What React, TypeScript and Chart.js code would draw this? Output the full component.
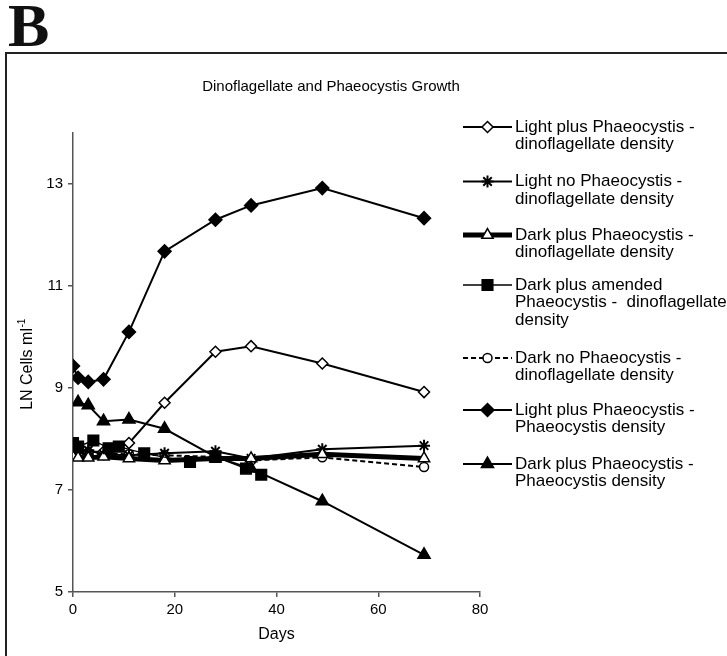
import React, { useEffect, useRef } from 'react';
import { Chart, registerables } from 'chart.js';

Chart.register(...registerables);

// ---------- data ----------
const days = [0, 1, 3, 6, 11, 18, 28, 35, 49, 69];
const lightPlusDino = [7.8, 7.78, 7.75, 7.75, 7.92, 8.71, 9.71, 9.82, 9.48, 8.92];
const lightNoDino = [7.75, 7.72, 7.78, 7.7, 7.68, 7.72, 7.76, 7.62, 7.8, 7.87];
const darkPlusDino = [7.65, 7.63, 7.63, 7.65, 7.62, 7.58, 7.62, 7.62, 7.7, 7.62];
const amendedDays = [0, 1, 4, 7, 9, 14, 23, 28, 34, 37];
const amendedDino = [7.92, 7.85, 7.97, 7.82, 7.85, 7.72, 7.55, 7.65, 7.42, 7.3];
const darkNoDino = [7.75, 7.72, 7.7, 7.72, 7.7, 7.68, 7.65, 7.58, 7.64, 7.45];
const lightPlusPhaeo = [9.43, 9.2, 9.12, 9.17, 10.1, 11.68, 12.3, 12.58, 12.92, 12.33];
const darkPhaeoDays = [1, 3, 6, 11, 18, 28, 35, 49, 69];
const darkPlusPhaeo = [8.72, 8.66, 8.35, 8.38, 8.2, 7.65, 7.42, 6.78, 5.73];

const seriesLabels = [
  ['Light plus Phaeocystis -', 'dinoflagellate density'],
  ['Light no Phaeocystis -', 'dinoflagellate density'],
  ['Dark plus Phaeocystis -', 'dinoflagellate density'],
  ['Dark plus amended', 'Phaeocystis -  dinoflagellate', 'density'],
  ['Dark no Phaeocystis -', 'dinoflagellate density'],
  ['Light plus Phaeocystis -', 'Phaeocystis density'],
  ['Dark plus Phaeocystis -', 'Phaeocystis density'],
];

const yTickValues = [5, 7, 9, 11, 13];
const xTickValues = [0, 20, 40, 60, 80];
const chartTitle = 'Dinoflagellate and Phaeocystis Growth';
const xTitle = 'Days';
const yTitleMain = 'LN Cells ml';
const yTitleSup = '-1';
const panelLetter = 'B';

// ---------- styles ----------
const W = 727;
const H = 656;
const FONT = "'Liberation Sans', Arial, sans-serif";
const AXIS = '#555555';

type Sty = { ps: string; filled: boolean; lw: number; dash: number[]; r: number; order: number };
const styles: Sty[] = [
  { ps: 'rectRot', filled: false, lw: 2, dash: [], r: 5.5, order: 7 },
  { ps: 'star', filled: false, lw: 2, dash: [], r: 6, order: 6 },
  { ps: 'triangle', filled: false, lw: 5, dash: [], r: 6.5, order: 5 },
  { ps: 'rect', filled: true, lw: 1.3, dash: [], r: 7.5, order: 1 },
  { ps: 'circle', filled: false, lw: 2, dash: [5, 3], r: 4.5, order: 9 },
  { ps: 'rectRot', filled: true, lw: 2, dash: [], r: 6.5, order: 3 },
  { ps: 'triangle', filled: true, lw: 2, dash: [], r: 7, order: 2 },
];

const toXY = (xs: number[], ys: number[]) => xs.map((x, i) => ({ x, y: ys[i] }));

const seriesData = [
  toXY(days, lightPlusDino),
  toXY(days, lightNoDino),
  toXY(days, darkPlusDino),
  toXY(amendedDays, amendedDino),
  toXY(days, darkNoDino),
  toXY(days, lightPlusPhaeo),
  toXY(darkPhaeoDays, darkPlusPhaeo),
];

function drawMarker(ctx: CanvasRenderingContext2D, s: Sty, x: number, y: number) {
  const r = s.r;
  ctx.save();
  ctx.setLineDash([]);
  ctx.lineWidth = s.ps === 'star' ? 2 : 1.5;
  ctx.strokeStyle = '#000';
  ctx.fillStyle = s.filled ? '#000' : '#fff';
  ctx.beginPath();
  if (s.ps === 'rectRot') {
    ctx.moveTo(x, y - r);
    ctx.lineTo(x + r, y);
    ctx.lineTo(x, y + r);
    ctx.lineTo(x - r, y);
    ctx.closePath();
    ctx.fill();
    ctx.stroke();
  } else if (s.ps === 'rect') {
    const h = r * Math.SQRT1_2;
    ctx.rect(x - h, y - h, 2 * h, 2 * h);
    ctx.fill();
    ctx.stroke();
  } else if (s.ps === 'triangle') {
    const a = (Math.PI * 2) / 3;
    ctx.moveTo(x, y - r);
    ctx.lineTo(x + Math.sin(a) * r, y - Math.cos(a) * r);
    ctx.lineTo(x - Math.sin(a) * r, y - Math.cos(a) * r);
    ctx.closePath();
    ctx.fill();
    ctx.stroke();
  } else if (s.ps === 'circle') {
    ctx.arc(x, y, r, 0, Math.PI * 2);
    ctx.fill();
    ctx.stroke();
  } else if (s.ps === 'star') {
    const d = r * Math.SQRT1_2;
    ctx.moveTo(x - r, y);
    ctx.lineTo(x + r, y);
    ctx.moveTo(x, y - r);
    ctx.lineTo(x, y + r);
    ctx.moveTo(x - d, y - d);
    ctx.lineTo(x + d, y + d);
    ctx.moveTo(x - d, y + d);
    ctx.lineTo(x + d, y - d);
    ctx.stroke();
  }
  ctx.restore();
}

const decorPlugin = {
  id: 'decor',
  beforeDraw(chart: any) {
    const ctx: CanvasRenderingContext2D = chart.ctx;
    ctx.save();
    ctx.fillStyle = '#fff';
    ctx.fillRect(0, 0, W, H);
    // frame
    ctx.strokeStyle = '#222';
    ctx.lineWidth = 2;
    ctx.beginPath();
    ctx.moveTo(6, H);
    ctx.lineTo(6, 53);
    ctx.lineTo(W, 53);
    ctx.stroke();
    // panel letter
    ctx.fillStyle = '#111';
    ctx.font = "bold 62px 'Liberation Serif', 'Times New Roman', serif";
    ctx.textBaseline = 'alphabetic';
    ctx.textAlign = 'left';
    ctx.fillText(panelLetter, 8, 46);
    ctx.restore();
  },
  afterDraw(chart: any) {
    const ctx: CanvasRenderingContext2D = chart.ctx;
    const area = chart.chartArea;
    ctx.save();
    // title
    ctx.fillStyle = '#000';
    ctx.font = `15px ${FONT}`;
    ctx.textAlign = 'center';
    ctx.textBaseline = 'middle';
    ctx.fillText(chartTitle, 331, 87);
    // y axis title with superscript
    ctx.translate(28, (area.top + area.bottom) / 2 + 2);
    ctx.rotate(-Math.PI / 2);
    ctx.font = `16px ${FONT}`;
    const w1 = ctx.measureText(yTitleMain).width;
    ctx.font = `10px ${FONT}`;
    const w2 = ctx.measureText(yTitleSup).width;
    const start = -(w1 + w2) / 2;
    ctx.textAlign = 'left';
    ctx.font = `16px ${FONT}`;
    ctx.fillText(yTitleMain, start, 0);
    ctx.font = `10px ${FONT}`;
    ctx.fillText(yTitleSup, start + w1 + 0.5, -6);
    ctx.restore();

    // legend
    const legendY = [127, 181.5, 235, 285, 358, 410, 464];
    const lineH = 17.5;
    ctx.save();
    seriesLabels.forEach((lines, i) => {
      const s = styles[i];
      const y = legendY[i];
      ctx.save();
      ctx.strokeStyle = '#000';
      ctx.lineWidth = s.lw;
      ctx.setLineDash(s.dash);
      ctx.beginPath();
      ctx.moveTo(463, y);
      ctx.lineTo(512, y);
      ctx.stroke();
      ctx.restore();
      drawMarker(ctx, s, 487.5, y);
      ctx.fillStyle = '#000';
      ctx.font = `17px ${FONT}`;
      ctx.textAlign = 'left';
      ctx.textBaseline = 'middle';
      lines.forEach((t, j) => ctx.fillText(t, 515, y + j * lineH));
    });
    ctx.restore();
  },
};

export default function App() {
  const ref = useRef<HTMLCanvasElement | null>(null);
  useEffect(() => {
    if (!ref.current) return;
    const tickFont = { family: FONT, size: 15 };
    const chart = new Chart(ref.current, {
      type: 'line',
      data: {
        datasets: seriesData.map((d, i) => {
          const s = styles[i];
          return {
            label: seriesLabels[i].join(' '),
            data: d,
            borderColor: '#000',
            borderWidth: s.lw,
            borderDash: s.dash,
            backgroundColor: s.filled ? '#000' : '#fff',
            pointStyle: s.ps as any,
            pointRadius: s.r,
            pointBorderWidth: s.ps === 'star' ? 2 : 1.5,
            pointBorderColor: '#000',
            pointBackgroundColor: s.filled ? '#000' : '#fff',
            tension: 0,
            fill: false,
            order: s.order,
          };
        }),
      },
      options: {
        responsive: false,
        animation: false,
        events: [],
        layout: { padding: { left: 0, right: 247, top: 133, bottom: 0 } },
        plugins: {
          legend: { display: false },
          title: { display: false },
          tooltip: { enabled: false },
        },
        scales: {
          x: {
            type: 'linear',
            min: 0,
            max: 80,
            afterBuildTicks: (s: any) => {
              s.ticks = xTickValues.map((v) => ({ value: v }));
            },
            afterFit: (s: any) => {
              s.height = 64;
            },
            ticks: { color: '#000', font: tickFont, padding: 4, maxRotation: 0 },
            grid: { drawOnChartArea: false, drawTicks: true, tickLength: 5, color: AXIS, lineWidth: 1.5 },
            border: { display: true, color: AXIS, width: 1.5 },
            title: {
              display: true,
              text: xTitle,
              color: '#000',
              font: { family: FONT, size: 16 },
              padding: { top: 0, bottom: 12 },
            },
          },
          y: {
            type: 'linear',
            min: 5,
            max: 14,
            afterBuildTicks: (s: any) => {
              s.ticks = yTickValues.map((v) => ({ value: v }));
            },
            afterFit: (s: any) => {
              s.width = 73;
            },
            ticks: { color: '#000', font: tickFont, padding: 5 },
            grid: { drawOnChartArea: false, drawTicks: true, tickLength: 5, color: AXIS, lineWidth: 1.5 },
            border: { display: true, color: AXIS, width: 1.5 },
          },
        },
      },
      plugins: [decorPlugin],
    });
    return () => chart.destroy();
  }, []);
  return (
    <div style={{ position: 'fixed', left: 0, top: 0, width: W, height: H, background: '#fff' }}>
      <canvas ref={ref} width={W} height={H} style={{ display: 'block', width: W, height: H }} />
    </div>
  );
}
